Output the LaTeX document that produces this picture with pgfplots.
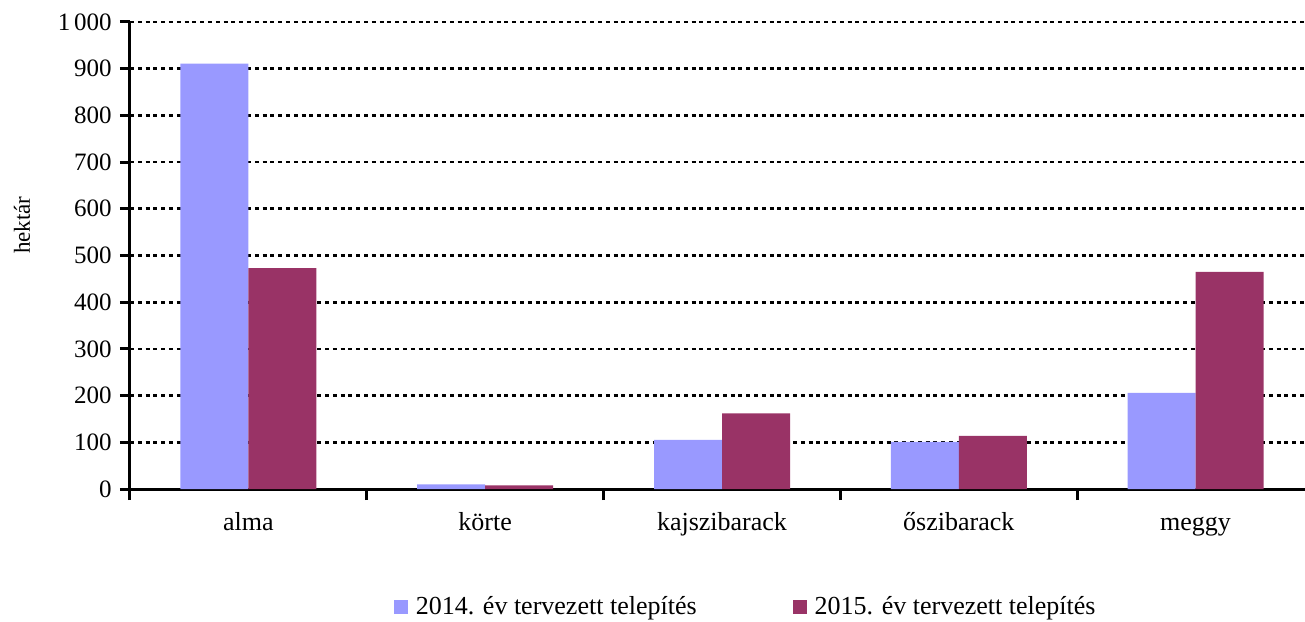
\documentclass[border=0pt]{standalone}
\usepackage{fontspec}
\setmainfont{Liberation Serif}
\usepackage{pgfplots}
\pgfplotsset{compat=1.18}
\definecolor{c14}{HTML}{9999FF}
\definecolor{c15}{HTML}{993366}
\begin{document}
\fontsize{12}{14}\selectfont
\begin{tikzpicture}
\useasboundingbox (-65pt,-66pt) rectangle (587.5pt,244.5pt);
\begin{axis}[
  at={(0,0)}, anchor=south west,
  scale only axis,
  width=592pt, height=233.5pt,
  ybar=0pt, bar width=34pt,
  xmin=-0.5, xmax=4.5,
  ymin=0, ymax=1000,
  axis x line*=bottom, axis y line*=left,
  axis line style={line width=1.5pt},
  xtick={0,1,2,3,4},
  xticklabels={alma,körte,kajszibarack,őszibarack,meggy},
  major x tick style={draw=none},
  minor xtick={-0.5,0.5,1.5,2.5,3.5,4.5},
  minor tick length=5.5pt,
  minor x tick style={line width=1.5pt, black},
  xticklabel style={font=\fontsize{13}{15}\selectfont, text height=8.5pt, text depth=3pt, yshift=-3pt},
  ytick={0,100,...,1000},
  major tick length=5pt,
  major y tick style={line width=1.5pt, black},
  tick align=outside,
  ymajorgrids,
  major grid style={black, line width=1.3pt, dash pattern=on 2pt off 1.9pt},
  /pgf/number format/assume math mode=true,
  /pgf/number format/1000 sep={\hspace{0.15em}},
  yticklabel style={font=\fontsize{12.5}{14}\selectfont, xshift=0pt},
  ylabel={hektár},
  ylabel style={font=\fontsize{11.5}{13}\selectfont, at={(axis description cs:-0.0912,0.565)}, anchor=center},
  legend columns=2,
  legend style={draw=none, at={(rel axis cs:0.5225,-0.2527)}, anchor=center,
    /tikz/every even column/.append style={column sep=44pt},
    nodes={inner xsep=4pt}, font=\fontsize{13}{15}\selectfont},
  legend image code/.code={\fill[#1] (0pt,-3.5pt) rectangle (7pt,3.5pt);},
]
\addplot[fill=c14, draw=none] coordinates {(0,911) (1,10) (2,105) (3,101) (4,206)};
\addplot[fill=c15, draw=none] coordinates {(0,473) (1,8) (2,162) (3,114) (4,465)};
\legend{2014. év tervezett telepítés, 2015. év tervezett telepítés}
\end{axis}
\end{tikzpicture}
\end{document}
